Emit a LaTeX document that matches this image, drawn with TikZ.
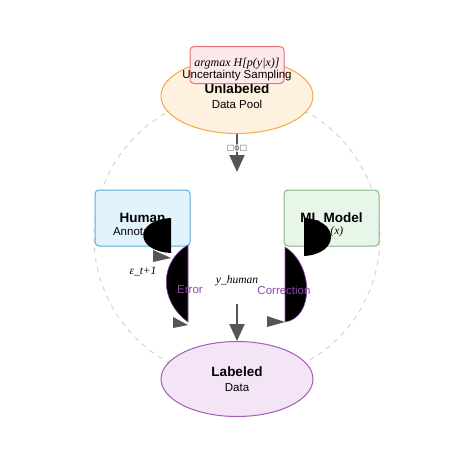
\documentclass[tikz,border=0pt]{standalone}
\usepackage{fontspec}
\setmainfont{Liberation Sans}
\newfontfamily\serifit{Liberation Serif}
\newfontfamily\symfont{DejaVu Sans}
\usepackage{tikz}
\usetikzlibrary{positioning, shapes.geometric, arrows.meta}

\definecolor{arrowgray}{HTML}{555555}
\definecolor{ringgray}{HTML}{D4D4D4}
\definecolor{poolfill}{HTML}{FFF1DF}
\definecolor{pooldraw}{HTML}{F2A93B}
\definecolor{humanfill}{HTML}{E1F4FD}
\definecolor{humandraw}{HTML}{5AAEE0}
\definecolor{modelfill}{HTML}{E8F5E9}
\definecolor{modeldraw}{HTML}{82B884}
\definecolor{labelfill}{HTML}{F3E5F5}
\definecolor{labeldraw}{HTML}{A35CB8}
\definecolor{pickfill}{HTML}{FDE9EB}
\definecolor{pickdraw}{HTML}{E57373}
\definecolor{loopviolet}{HTML}{8E44AD}

\begin{document}
\begin{tikzpicture}[x=1pt, y=-1pt,
        pool/.style={ellipse, draw, line width=1pt, minimum width=152pt, minimum height=75pt, inner sep=0pt, align=center, font=\fontsize{11.5}{15}\selectfont},
        panel/.style={rectangle, rounded corners=4pt, draw, line width=1pt, minimum width=95pt, minimum height=56pt},
        flow/.style={draw=arrowgray, line width=2pt, -{Triangle[length=17pt, width=15pt]}},
        blob/.style={fill=black, draw=#1, line width=0.6pt},
        tipshape/.style={fill=arrowgray},
        headline/.style={font=\fontsize{13.5}{15}\selectfont\bfseries},
        maths/.style={font=\fontsize{11.5}{15}\selectfont\serifit\itshape},
        loopnote/.style={text=loopviolet, font=\fontsize{11.5}{13}\selectfont}]
        \useasboundingbox (0,0) rectangle (474,474);
        % dashed ring
        \draw [ringgray, dashed, dash pattern=on 5pt off 5pt, line width=1pt] (237,237) circle [radius=143pt];
        % pools
        \node [pool, draw=pooldraw, fill=poolfill] (unlabeled) at (237,96) {{\fontsize{13.5}{15}\selectfont\bfseries Unlabeled}\\Data Pool};
        \node [pool, draw=labeldraw, fill=labelfill] (labeled) at (237,379) {{\fontsize{13.5}{15}\selectfont\bfseries Labeled}\\Data};
        \node [rectangle, rounded corners=4pt, draw=pickdraw, fill=pickfill, line width=1pt, minimum width=94pt, minimum height=37pt] (sampler) at (237,65) {};
        \node [align=center, inner sep=0pt] (samplertext) at (237,70) {{\fontsize{12}{15}\selectfont\serifit\itshape argmax H[p(y|x)]}\\{\fontsize{11.5}{15}\selectfont Uncertainty Sampling}};
        % panels
        \node [panel, draw=humandraw, fill=humanfill] (human) at (142.5,218) {};
        \node [panel, draw=modeldraw, fill=modelfill] (model) at (331.5,218) {};
        \node [headline] (humantitle) at (142.5,218) {Human};
        \node [font=\fontsize{11.5}{13}\selectfont] (humansub) at (138,232) {Annotator};
        \node [headline] (modeltitle) at (331.5,218) {ML Model};
        \node [maths] (modelsub) at (333,232) {f\textsubscript{θ}(x)};
        % straight arrows
        \coordinate (query) at (237,172);
        \coordinate (answer) at (237,304);
        \draw [flow] (unlabeled) -- (query);
        \draw [flow] (answer) -- (labeled);
        \node [fill=white, inner sep=0.5pt, text=arrowgray, font=\fontsize{8}{8}\symfont] (querytag) at (237,148) {□ϕ□};
        % bent arrows
        \coordinate (htop) at (171,218);
        \coordinate (hbot) at (171,253);
        \coordinate (etop) at (188,245);
        \coordinate (ebot) at (188,322);
        \coordinate (mtop) at (304,218);
        \coordinate (mbot) at (304,256);
        \coordinate (ctop) at (285,247);
        \coordinate (cbot) at (285,322);
        \fill [black] (htop) .. controls (134,220) and (134,251) .. (hbot) -- cycle;
        \fill [tipshape] (153,250) -- (171,258) -- (153,262) -- cycle;
        \draw [blob=loopviolet] (etop) .. controls (159,262) and (159,301) .. (ebot) -- cycle;
        \fill [tipshape] (173,317) -- (188,325) -- (173,328) -- cycle;
        \fill [black] (mtop) .. controls (340,220) and (340,254) .. (mbot) -- cycle;
        \draw [blob=loopviolet] (ctop) .. controls (314,265) and (314,318) .. (cbot) -- cycle;
        \fill [tipshape] (267,316) -- (285,322) -- (267,327) -- cycle;
        % labels
        \node [maths] (eps) at (143,271) {ε\_t+1};
        \node [maths] (yhuman) at (237,281) {y\_human};
        \node [loopnote] (error) at (190,290) {Error};
        \node [loopnote] (correction) at (284,290) {Correction};
\end{tikzpicture}
\end{document}
